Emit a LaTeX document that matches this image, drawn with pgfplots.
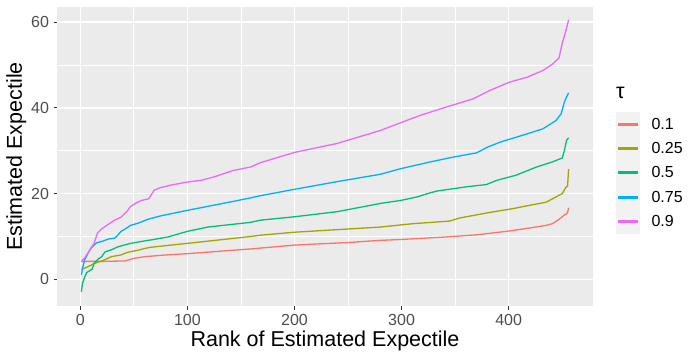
\documentclass[border=0pt]{standalone}
\usepackage{fontspec}
\setmainfont{Liberation Sans}
\usepackage{pgfplots}
\pgfplotsset{compat=1.18}

\definecolor{c1}{HTML}{F8766D}
\definecolor{c2}{HTML}{A3A500}
\definecolor{c3}{HTML}{00BF7D}
\definecolor{c4}{HTML}{00B0F6}
\definecolor{c5}{HTML}{E76BF3}
\definecolor{panel}{HTML}{EBEBEB}
\definecolor{keybg}{HTML}{F2F2F2}
\definecolor{ticklab}{HTML}{4D4D4D}
\definecolor{tickcol}{HTML}{333333}

\begin{document}
\begin{tikzpicture}
\useasboundingbox (0,0) rectangle (696pt,360pt);
\begin{axis}[
  at={(57pt,54pt)}, anchor=south west,
  scale only axis, width=536pt, height=299pt,
  xmin=-21.75, xmax=478.75, ymin=-6.2, ymax=63.5,
  xtick={0,100,200,300,400}, ytick={0,20,40,60},
  minor x tick num=1, minor y tick num=1,
  minor tick length=0pt, major tick length=3.5pt,
  tick align=outside, xtick pos=bottom, ytick pos=left,
  tick style={tickcol, line width=0.8pt},
  axis line style={draw=none},
  axis background/.style={fill=panel},
  grid=both,
  major grid style={white, line width=1.4pt},
  minor grid style={white, line width=0.7pt},
  /pgf/number format/assume math mode=true,
  ticklabel style={font=\fontsize{16}{18}\selectfont, text=ticklab},
  xticklabel style={yshift=-1pt},
  yticklabel style={xshift=-1pt},
  xlabel={Rank of Estimated Expectile},
  ylabel={Estimated Expectile},
  label style={font=\fontsize{21.5}{24}\selectfont},
  xlabel style={yshift=1pt},
  ylabel style={yshift=-2pt},
  legend style={at={(1.043,0.649)}, anchor=north west, draw=none, fill=none,
    font=\fontsize{16}{18}\selectfont, row sep=0pt, inner sep=0pt,
    nodes={inner sep=0pt, anchor=west}},
  legend cell align=left,
  legend image code/.code={
    \fill[keybg] (0pt,-11.5pt) rectangle (22pt,11.5pt);
    \fill[#1] (2pt,-0.75pt) rectangle (20pt,0.75pt);
  },
  every axis plot/.append style={line width=1.3pt},
]
\addplot[c1] coordinates {
(1,4.2) (5,4.2) (20,4.2) (42,4.3) (50,4.9) (60,5.3) (80,5.7) (100,6.0)
(137,6.7) (159,7.1) (200,8.0) (250,8.6) (280,9.1) (299,9.3) (342,9.9)
(370,10.4) (398,11.2) (420,12.0) (435,12.6) (441,13.0) (447,14.0)
(452,15.0) (454,15.3) (455,15.6) (456,16.7)
};
\addlegendentry{\hspace{12pt}0.1}
\addplot[c2] coordinates {
(1,2.4) (4,2.6) (10,3.3) (13,3.7) (22,4.5) (29,5.3) (38,5.7) (44,6.3)
(54,6.8) (60,7.2) (66,7.5) (100,8.4) (137,9.4) (159,10.0) (168,10.3)
(200,11.0) (240,11.6) (280,12.2) (299,12.7) (311,13.0) (345,13.6)
(354,14.3) (382,15.6) (404,16.5) (420,17.3) (435,18.0) (444,19.2)
(447,19.6) (450,20.0) (453,21.3) (455,21.8) (456,25.7)
};
\addlegendentry{\hspace{12pt}0.25}
\addplot[c3] coordinates {
(1,-2.9) (2,-1.0) (4,0.5) (6,1.6) (11,2.4) (13,3.8) (17,4.8) (20,5.3)
(23,6.4) (29,6.9) (35,7.6) (41,8.0) (47,8.4) (63,9.1) (66,9.2) (82,9.9)
(100,11.2) (119,12.2) (159,13.3) (168,13.8) (200,14.6) (240,15.8)
(280,17.7) (299,18.4) (314,19.2) (327,20.2) (333,20.6) (361,21.6)
(379,22.1) (389,23.1) (407,24.3) (426,26.2) (441,27.4) (450,28.3)
(452,30.0) (454,32.4) (456,33.0)
};
\addlegendentry{\hspace{12pt}0.5}
\addplot[c4] coordinates {
(1,1.0) (2,2.5) (4,4.5) (7,6.0) (10,7.3) (15,8.5) (22,9.0) (26,9.4)
(32,9.6) (35,10.3) (38,11.2) (41,11.6) (47,12.6) (54,13.1) (63,14.0)
(75,14.8) (100,16.1) (137,17.9) (159,19.0) (168,19.5) (200,21.0)
(240,22.8) (280,24.5) (299,25.8) (327,27.4) (348,28.5) (370,29.5)
(380,30.8) (392,32.0) (413,33.6) (432,35.1) (444,37.0) (449,38.6)
(452,41.3) (454,42.5) (456,43.5)
};
\addlegendentry{\hspace{12pt}0.75}
\addplot[c5] coordinates {
(1,4.2) (4,5.0) (8,6.5) (13,8.5) (16,10.8) (20,11.8) (26,12.8) (32,13.8)
(38,14.5) (44,16.0) (47,17.0) (52,17.8) (57,18.4) (64,18.8) (69,20.8)
(75,21.4) (85,22.0) (100,22.7) (113,23.1) (125,23.9) (143,25.4)
(159,26.2) (168,27.2) (200,29.6) (240,31.7) (280,34.7) (299,36.5)
(317,38.2) (342,40.2) (367,42.1) (382,44.0) (401,46.0) (417,47.1)
(432,48.7) (441,50.2) (447,51.6) (450,55.0) (453,57.6) (456,60.5)
};
\addlegendentry{\hspace{12pt}0.9}
\end{axis}
\node[anchor=west, font=\fontsize{21.5}{24}\selectfont, inner sep=0pt]
  at (616pt,267pt) {τ};
\end{tikzpicture}
\end{document}
